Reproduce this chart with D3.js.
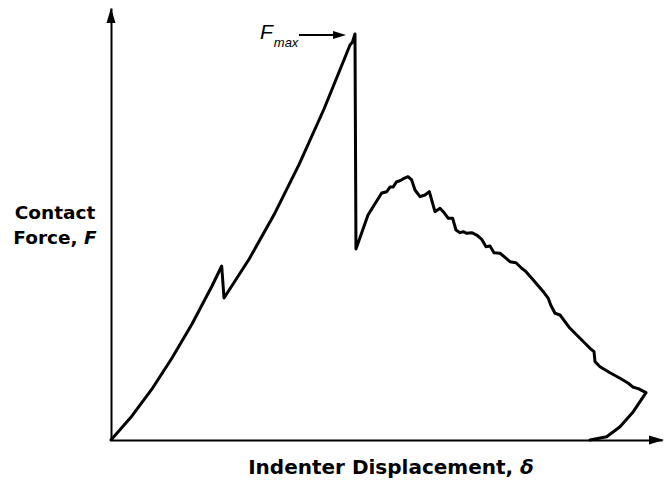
<!DOCTYPE html>
<html>
<head>
<meta charset="utf-8">
<script src="https://cdn.jsdelivr.net/npm/d3@7"></script>
<style>
  body { margin: 0; background: #fff; }
  #chart text { fill: #000; }
</style>
</head>
<body>
<div id="chart"></div>
<script>
// Indentation test: contact force vs indenter displacement (arbitrary units)
const displacement = [
  0, 0.381, 0.744, 1.107, 1.470, 1.833, 2.009,
  2.051, 2.505, 2.958, 3.412, 3.866, 4.338, 4.383, 4.428,
  4.446, 4.664, 4.913, 5.004, 5.064, 5.118, 5.185, 5.245, 5.299, 5.390,
  5.457, 5.517, 5.608, 5.699, 5.777, 5.820, 5.880, 5.971, 6.031, 6.122,
  6.201, 6.261, 6.334, 6.394, 6.456, 6.546, 6.637, 6.728, 6.806, 6.878,
  6.951, 7.060, 7.151, 7.241, 7.350, 7.454, 7.532, 7.664, 7.846, 7.936,
  7.980, 8.058, 8.149, 8.330, 8.512, 8.693, 8.766, 8.784, 8.875, 9.056,
  9.238, 9.389, 9.479, 9.570, 9.710,
  9.479, 9.238, 8.996, 8.693
];
const force = [
  0, 0.556, 1.181, 1.898, 2.685, 3.565, 4.028,
  3.287, 4.183, 5.213, 6.373, 7.662, 9.144, 9.213, 9.398,
  4.421, 5.208, 5.718, 5.748, 5.856, 5.856, 5.979, 6.002, 6.042, 6.095,
  6.019, 5.787, 5.632, 5.671, 5.748, 5.556, 5.285, 5.363, 5.285, 5.132,
  5.132, 4.861, 4.799, 4.822, 4.785, 4.799, 4.745, 4.646, 4.475, 4.491,
  4.336, 4.322, 4.229, 4.127, 4.104, 3.975, 3.896, 3.704, 3.433, 3.280,
  3.125, 2.933, 2.894, 2.586, 2.354, 2.123, 2.044, 1.813, 1.697, 1.558,
  1.428, 1.313, 1.220, 1.188, 1.095,
  0.655, 0.308, 0.076, 0
];
const peakIndex = 14; // F_max

const xLabel = "Indenter Displacement, ";
const yLabelLines = ["Contact", "Force, "];

const width = 668;
const height = 480;

const svg = d3.select("#chart")
  .append("svg")
  .attr("width", width)
  .attr("height", height);

const x = d3.scaleLinear().domain([0, 10]).range([111, 662]);
const y = d3.scaleLinear().domain([0, 10]).range([440, 8]);

// axes without ticks, arrow heads at the ends
svg.append("g")
  .attr("transform", `translate(0,${y(0)})`)
  .call(d3.axisBottom(x).ticks(0).tickSizeOuter(0))
  .select(".domain").attr("stroke-width", 2);

svg.append("g")
  .attr("transform", `translate(${x(0)},0)`)
  .call(d3.axisLeft(y).ticks(0).tickSizeOuter(0))
  .select(".domain").attr("stroke-width", 2);

const xEnd = x.range()[1], yTop = y.range()[1];
svg.append("path")
  .attr("d", `M${xEnd + 2},${y(0)} L${xEnd - 13},${y(0) - 4.5} L${xEnd - 13},${y(0) + 4.5} Z`)
  .attr("fill", "#000");
svg.append("path")
  .attr("d", `M${x(0)},${yTop} L${x(0) - 4.5},${yTop + 15} L${x(0) + 4.5},${yTop + 15} Z`)
  .attr("fill", "#000");

// the curve
const pts = displacement.map((d, i) => [d, force[i]]);
svg.append("path")
  .datum(pts)
  .attr("fill", "none")
  .attr("stroke", "#000")
  .attr("stroke-width", 3)
  .attr("stroke-linejoin", "round")
  .attr("stroke-linecap", "round")
  .attr("d", d3.line().x(d => x(d[0])).y(d => y(d[1])));

// F_max annotation
const px = x(displacement[peakIndex]), py = y(force[peakIndex]);
svg.append("line")
  .attr("x1", px - 56).attr("x2", px - 20)
  .attr("y1", py + 1).attr("y2", py + 1)
  .attr("stroke", "#000").attr("stroke-width", 2);
svg.append("path")
  .attr("d", `M${px - 9},${py + 1} L${px - 22},${py - 3} L${px - 22},${py + 5} Z`)
  .attr("fill", "#000");
const fm = svg.append("text")
  .attr("x", px - 95).attr("y", py + 5)
  .style("font-family", "'Liberation Sans', Arial, sans-serif")
  .style("font-style", "italic");
fm.append("tspan").style("font-size", "21px").text("F");
fm.append("tspan").attr("dy", 8).attr("dx", 1).style("font-size", "13px").text("max");

// axis titles
const lab = svg.append("text")
  .attr("x", 391).attr("y", 474)
  .attr("text-anchor", "middle")
  .style("font-family", "'DejaVu Sans', Verdana, sans-serif")
  .style("font-weight", "bold")
  .style("font-size", "20px");
lab.append("tspan").text(xLabel);
lab.append("tspan").style("font-style", "italic").text("δ");

const yl = svg.append("text")
  .attr("text-anchor", "middle")
  .style("font-family", "'DejaVu Sans', Verdana, sans-serif")
  .style("font-weight", "bold")
  .style("font-size", "18.5px");
yl.append("tspan").attr("x", 55).attr("y", 219).text(yLabelLines[0]);
yl.append("tspan").attr("x", 55).attr("y", 244).text(yLabelLines[1]);
yl.append("tspan").style("font-style", "italic").text("F");
</script>
</body>
</html>
